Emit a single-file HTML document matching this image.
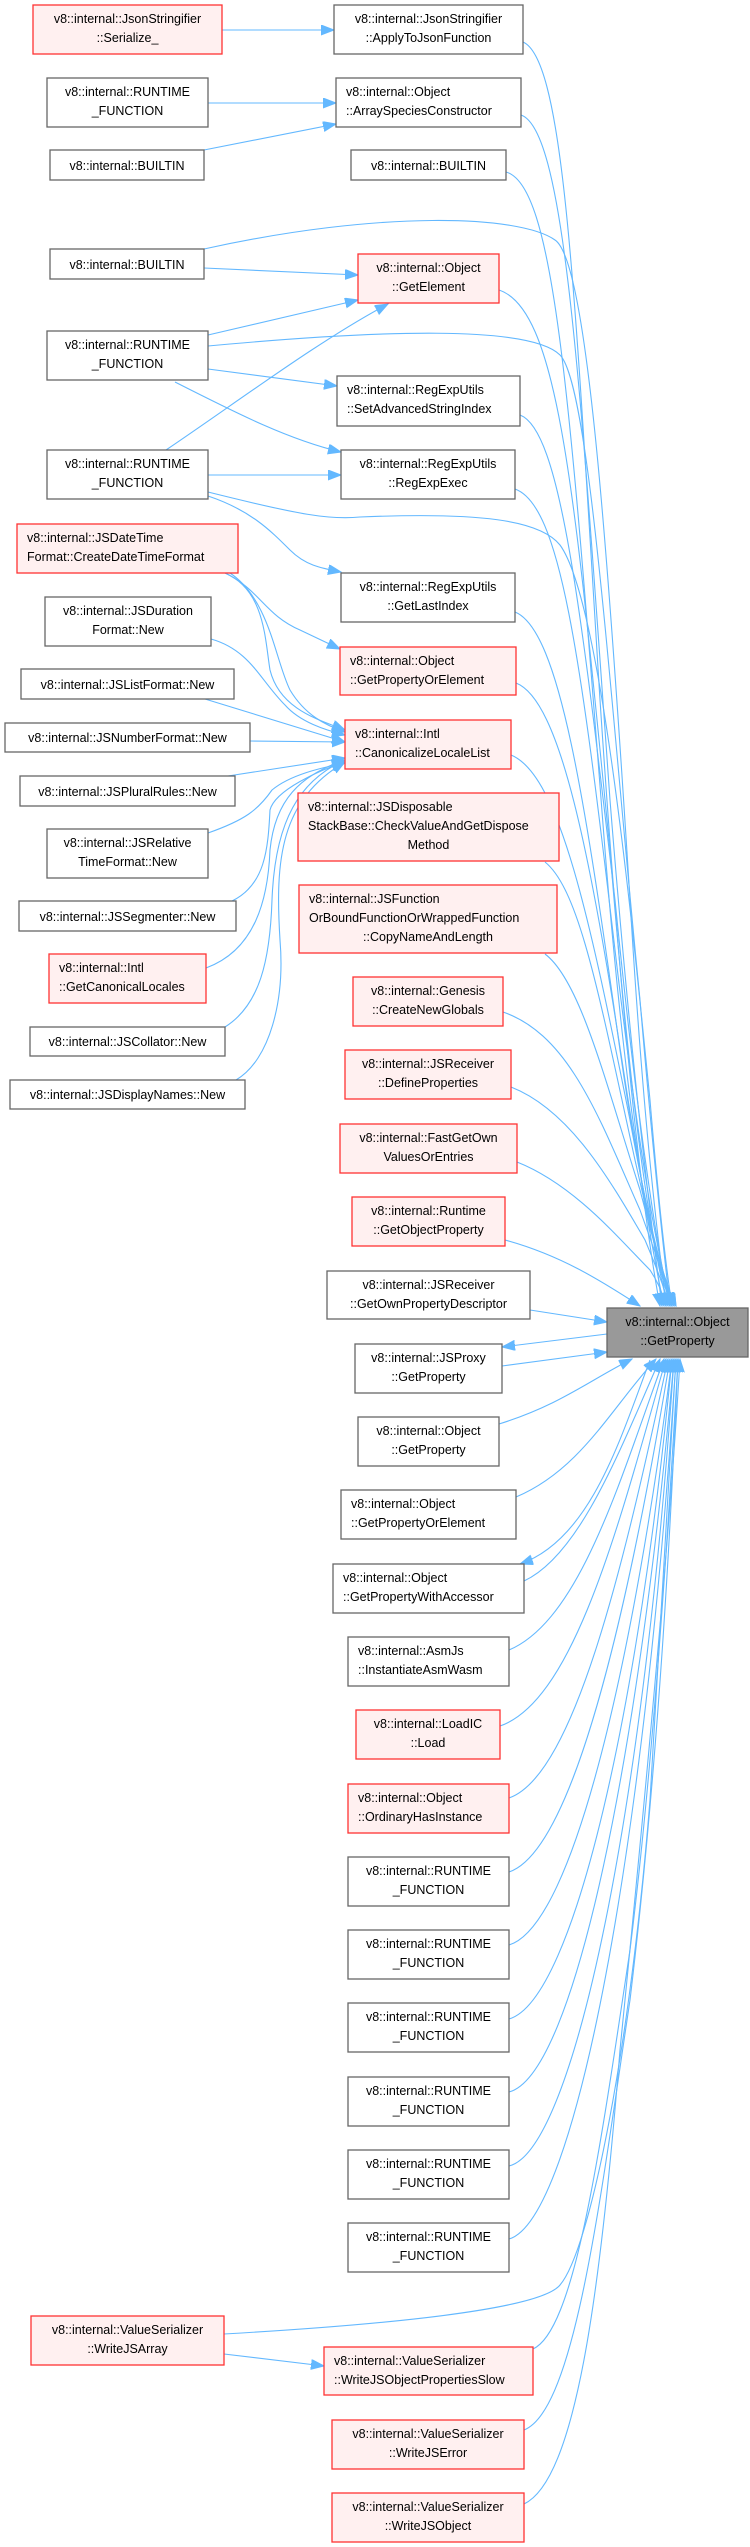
<!DOCTYPE html>
<html><head><meta charset="utf-8"><style>
html,body{margin:0;padding:0;background:#fff;}
svg{display:block;}
text{font-family:"Liberation Sans",sans-serif;font-size:12.5px;fill:#000;}
.w{fill:#fff;stroke:#666;stroke-width:1.3;}
.r{fill:#fff0f0;stroke:#f33;stroke-width:1.3;}
.g{fill:#999;stroke:#666;stroke-width:1.3;}
.e{fill:none;stroke:#63b8ff;stroke-width:1.1;}
.a{fill:none;stroke:#63b8ff;stroke-width:1.1;marker-end:url(#ah);}
</style></head><body>
<svg width="750" height="2547" viewBox="0 0 750 2547" xmlns="http://www.w3.org/2000/svg">
<defs><marker id="ah" markerUnits="userSpaceOnUse" markerWidth="14" markerHeight="12" refX="13" refY="5" orient="auto"><path d="M0,0 L13,5 L0,10 z" fill="#63b8ff" stroke="#63b8ff"/></marker></defs>

<!-- left-side edges -->
<path class="a" d="M222,30 L334,30"/>
<path class="a" d="M208,103 L336,103"/>
<path class="a" d="M204,150 L336,124"/>
<path class="a" d="M204,268 L358,275"/>
<path class="a" d="M208,335 L358,300"/>
<path class="a" d="M166,450 C240,400 320,340 388,304"/>
<path class="a" d="M208,369 L337,386"/>
<path class="a" d="M175,382 C240,415 290,440 341,452"/>
<path class="a" d="M208,475 L341,475"/>
<path class="a" d="M208,496 C250,510 270,530 290,550 C305,565 320,568 341,572"/>
<path class="a" d="M225,573 C260,590 265,615 300,630 C315,637 325,642 340,649"/>
<path class="a" d="M225,573 C265,590 265,640 270,670 C280,710 320,720 345,730"/>
<path class="a" d="M230,573 C270,600 275,660 290,690 C305,715 325,725 345,732"/>
<path class="a" d="M211,639 C250,650 260,680 285,705 C300,722 325,730 345,735"/>
<path class="a" d="M205,699 L345,742"/>
<path class="a" d="M250,741 L345,742"/>
<path class="a" d="M228,776 L345,758"/>
<path class="a" d="M208,833 C245,820 258,810 272,790 C290,775 320,768 345,763"/>
<path class="a" d="M232,901 C265,885 268,850 270,810 C275,790 320,770 345,762"/>
<path class="a" d="M206,968 C255,950 268,900 270,850 C275,800 300,775 345,760"/>
<path class="a" d="M225,1027 C260,1005 270,960 272,900 C275,820 300,780 345,760"/>
<path class="a" d="M236,1080 C270,1060 285,1000 280,940 C275,860 280,800 345,762"/>
<path class="a" d="M224,2354 L324,2366"/>

<!-- edges to target from above -->
<g class="a">
<path d="M523,42 C565,60 575,300 600,700 C620,1000 640,1200 660,1306"/>
<path d="M521,115 C565,130 580,380 610,800 C630,1050 648,1200 662,1306"/>
<path d="M506,172 C555,185 570,400 605,850 C625,1100 648,1230 664,1306"/>
<path d="M204,249 C380,210 520,215 555,240 C585,260 605,500 630,900 C645,1150 660,1250 666,1306"/>
<path d="M499,290 C560,310 575,500 610,850 C630,1100 650,1240 668,1306"/>
<path d="M208,346 C380,330 530,325 560,355 C590,385 610,700 640,1000 C655,1180 665,1260 670,1306"/>
<path d="M520,415 C560,430 580,600 615,900 C635,1100 655,1240 670,1306"/>
<path d="M515,489 C560,505 580,650 615,950 C635,1120 655,1250 672,1306"/>
<path d="M208,492 C300,515 330,520 360,517 C480,512 540,520 560,545 C600,600 630,900 650,1100 C660,1220 668,1280 672,1306"/>
<path d="M515,612 C560,630 585,800 620,1050 C640,1190 660,1270 672,1306"/>
<path d="M516,683 C560,700 590,850 625,1080 C645,1210 660,1280 672,1306"/>
<path d="M511,755 C560,775 590,920 630,1120 C650,1230 665,1285 674,1306"/>
<path d="M545,862 C580,890 600,1000 635,1160 C655,1250 668,1290 676,1306"/>
<path d="M545,954 C580,980 605,1080 640,1190 C658,1260 668,1290 676,1306"/>
<path d="M503,1012 C570,1035 600,1120 640,1210 C658,1260 668,1290 674,1306"/>
<path d="M511,1087 C570,1110 610,1180 645,1240 C660,1275 666,1295 670,1306"/>
<path d="M517,1162 C575,1185 620,1240 650,1270 C660,1285 664,1298 666,1306"/>
<path d="M505,1240 C560,1255 600,1280 640,1306"/>
<path d="M530,1310 L607,1322"/>
<path d="M607,1334 L502,1347"/>
<path d="M502,1366 L607,1352"/>
</g>

<!-- edges to target from below -->
<g class="a">
<path d="M499,1424 C560,1405 590,1380 632,1359"/>
<path d="M516,1497 C580,1470 610,1410 656,1359"/>
<path d="M650,1360 C620,1440 590,1540 520,1564"/>
<path d="M524,1581 C580,1555 620,1450 660,1359"/>
<path d="M509,1650 C580,1620 620,1480 664,1359"/>
<path d="M500,1726 C575,1700 620,1520 666,1359"/>
<path d="M509,1798 C575,1775 625,1560 668,1359"/>
<path d="M509,1872 C575,1850 630,1600 670,1359"/>
<path d="M509,1945 C575,1925 635,1650 672,1359"/>
<path d="M509,2019 C575,2000 640,1700 672,1359"/>
<path d="M509,2092 C575,2075 640,1750 674,1359"/>
<path d="M509,2166 C575,2150 645,1800 674,1359"/>
<path d="M509,2239 C575,2220 645,1850 676,1359"/>
<path d="M224,2334 C380,2325 540,2310 560,2285 C590,2250 630,2050 650,1800 C662,1600 672,1420 676,1359"/>
<path d="M533,2349 C575,2330 600,2150 630,1950 C655,1750 670,1500 678,1359"/>
<path d="M524,2430 C575,2410 600,2200 630,2000 C660,1750 672,1500 678,1359"/>
<path d="M524,2504 C575,2480 600,2300 620,2050 C650,1750 672,1500 680,1359"/>
</g>

<!-- nodes -->
<rect class="r" x="33" y="5" width="189" height="49"/><text x="127.5" y="23" text-anchor="middle">v8::internal::JsonStringifier</text><text x="127.5" y="42" text-anchor="middle">::Serialize_</text>
<rect class="w" x="334" y="5" width="189" height="49"/><text x="428.5" y="23" text-anchor="middle">v8::internal::JsonStringifier</text><text x="428.5" y="42" text-anchor="middle">::ApplyToJsonFunction</text>
<rect class="w" x="47" y="78" width="161" height="49"/><text x="127.5" y="96" text-anchor="middle">v8::internal::RUNTIME</text><text x="127.5" y="115" text-anchor="middle">_FUNCTION</text>
<rect class="w" x="336" y="78" width="185" height="49"/><text x="346" y="96">v8::internal::Object</text><text x="346" y="115">::ArraySpeciesConstructor</text>
<rect class="w" x="50" y="150" width="154" height="30"/><text x="127" y="170" text-anchor="middle">v8::internal::BUILTIN</text>
<rect class="w" x="351" y="150" width="155" height="30"/><text x="428.5" y="170" text-anchor="middle">v8::internal::BUILTIN</text>
<rect class="w" x="50" y="249" width="154" height="30"/><text x="127" y="269" text-anchor="middle">v8::internal::BUILTIN</text>
<rect class="r" x="358" y="254" width="141" height="49"/><text x="428.5" y="272" text-anchor="middle">v8::internal::Object</text><text x="428.5" y="291" text-anchor="middle">::GetElement</text>
<rect class="w" x="47" y="331" width="161" height="49"/><text x="127.5" y="349" text-anchor="middle">v8::internal::RUNTIME</text><text x="127.5" y="368" text-anchor="middle">_FUNCTION</text>
<rect class="w" x="337" y="376" width="183" height="50"/><text x="347" y="394">v8::internal::RegExpUtils</text><text x="347" y="413">::SetAdvancedStringIndex</text>
<rect class="w" x="47" y="450" width="161" height="49"/><text x="127.5" y="468" text-anchor="middle">v8::internal::RUNTIME</text><text x="127.5" y="487" text-anchor="middle">_FUNCTION</text>
<rect class="w" x="341" y="450" width="174" height="49"/><text x="428" y="468" text-anchor="middle">v8::internal::RegExpUtils</text><text x="428" y="487" text-anchor="middle">::RegExpExec</text>
<rect class="r" x="17" y="524" width="221" height="49"/><text x="27" y="542">v8::internal::JSDateTime</text><text x="27" y="561">Format::CreateDateTimeFormat</text>
<rect class="w" x="341" y="573" width="174" height="49"/><text x="428" y="591" text-anchor="middle">v8::internal::RegExpUtils</text><text x="428" y="610" text-anchor="middle">::GetLastIndex</text>
<rect class="w" x="45" y="597" width="166" height="49"/><text x="128" y="615" text-anchor="middle">v8::internal::JSDuration</text><text x="128" y="634" text-anchor="middle">Format::New</text>
<rect class="r" x="340" y="647" width="176" height="48"/><text x="350" y="665">v8::internal::Object</text><text x="350" y="684">::GetPropertyOrElement</text>
<rect class="w" x="21" y="669" width="213" height="30"/><text x="127.5" y="689" text-anchor="middle">v8::internal::JSListFormat::New</text>
<rect class="r" x="345" y="720" width="166" height="49"/><text x="355" y="738">v8::internal::Intl</text><text x="355" y="757">::CanonicalizeLocaleList</text>
<rect class="w" x="5" y="723" width="245" height="29"/><text x="127.5" y="742" text-anchor="middle">v8::internal::JSNumberFormat::New</text>
<rect class="w" x="20" y="776" width="215" height="30"/><text x="127.5" y="796" text-anchor="middle">v8::internal::JSPluralRules::New</text>
<rect class="r" x="298" y="793" width="261" height="68"/><text x="308" y="811">v8::internal::JSDisposable</text><text x="308" y="830">StackBase::CheckValueAndGetDispose</text><text x="428.5" y="849" text-anchor="middle">Method</text>
<rect class="w" x="47" y="829" width="161" height="49"/><text x="127.5" y="847" text-anchor="middle">v8::internal::JSRelative</text><text x="127.5" y="866" text-anchor="middle">TimeFormat::New</text>
<rect class="w" x="19" y="901" width="217" height="30"/><text x="127.5" y="921" text-anchor="middle">v8::internal::JSSegmenter::New</text>
<rect class="r" x="299" y="885" width="258" height="68"/><text x="309" y="903">v8::internal::JSFunction</text><text x="309" y="922">OrBoundFunctionOrWrappedFunction</text><text x="428" y="941" text-anchor="middle">::CopyNameAndLength</text>
<rect class="r" x="49" y="954" width="157" height="49"/><text x="59" y="972">v8::internal::Intl</text><text x="59" y="991">::GetCanonicalLocales</text>
<rect class="r" x="353" y="977" width="150" height="49"/><text x="428" y="995" text-anchor="middle">v8::internal::Genesis</text><text x="428" y="1014" text-anchor="middle">::CreateNewGlobals</text>
<rect class="w" x="30" y="1027" width="195" height="29"/><text x="127.5" y="1046" text-anchor="middle">v8::internal::JSCollator::New</text>
<rect class="r" x="345" y="1050" width="166" height="49"/><text x="428" y="1068" text-anchor="middle">v8::internal::JSReceiver</text><text x="428" y="1087" text-anchor="middle">::DefineProperties</text>
<rect class="w" x="10" y="1080" width="235" height="29"/><text x="127.5" y="1099" text-anchor="middle">v8::internal::JSDisplayNames::New</text>
<rect class="r" x="340" y="1124" width="177" height="49"/><text x="428.5" y="1142" text-anchor="middle">v8::internal::FastGetOwn</text><text x="428.5" y="1161" text-anchor="middle">ValuesOrEntries</text>
<rect class="r" x="352" y="1197" width="153" height="49"/><text x="428.5" y="1215" text-anchor="middle">v8::internal::Runtime</text><text x="428.5" y="1234" text-anchor="middle">::GetObjectProperty</text>
<rect class="w" x="327" y="1271" width="203" height="48"/><text x="428.5" y="1289" text-anchor="middle">v8::internal::JSReceiver</text><text x="428.5" y="1308" text-anchor="middle">::GetOwnPropertyDescriptor</text>
<rect class="g" x="607" y="1308" width="141" height="49"/><text x="677.5" y="1326" text-anchor="middle">v8::internal::Object</text><text x="677.5" y="1345" text-anchor="middle">::GetProperty</text>
<rect class="w" x="355" y="1344" width="147" height="49"/><text x="428.5" y="1362" text-anchor="middle">v8::internal::JSProxy</text><text x="428.5" y="1381" text-anchor="middle">::GetProperty</text>
<rect class="w" x="358" y="1417" width="141" height="49"/><text x="428.5" y="1435" text-anchor="middle">v8::internal::Object</text><text x="428.5" y="1454" text-anchor="middle">::GetProperty</text>
<rect class="w" x="341" y="1490" width="175" height="49"/><text x="351" y="1508">v8::internal::Object</text><text x="351" y="1527">::GetPropertyOrElement</text>
<rect class="w" x="333" y="1564" width="191" height="49"/><text x="343" y="1582">v8::internal::Object</text><text x="343" y="1601">::GetPropertyWithAccessor</text>
<rect class="w" x="348" y="1637" width="161" height="49"/><text x="358" y="1655">v8::internal::AsmJs</text><text x="358" y="1674">::InstantiateAsmWasm</text>
<rect class="r" x="356" y="1710" width="144" height="49"/><text x="428" y="1728" text-anchor="middle">v8::internal::LoadIC</text><text x="428" y="1747" text-anchor="middle">::Load</text>
<rect class="r" x="348" y="1784" width="161" height="49"/><text x="358" y="1802">v8::internal::Object</text><text x="358" y="1821">::OrdinaryHasInstance</text>
<rect class="w" x="348" y="1857" width="161" height="49"/><text x="428.5" y="1875" text-anchor="middle">v8::internal::RUNTIME</text><text x="428.5" y="1894" text-anchor="middle">_FUNCTION</text>
<rect class="w" x="348" y="1930" width="161" height="49"/><text x="428.5" y="1948" text-anchor="middle">v8::internal::RUNTIME</text><text x="428.5" y="1967" text-anchor="middle">_FUNCTION</text>
<rect class="w" x="348" y="2003" width="161" height="49"/><text x="428.5" y="2021" text-anchor="middle">v8::internal::RUNTIME</text><text x="428.5" y="2040" text-anchor="middle">_FUNCTION</text>
<rect class="w" x="348" y="2077" width="161" height="49"/><text x="428.5" y="2095" text-anchor="middle">v8::internal::RUNTIME</text><text x="428.5" y="2114" text-anchor="middle">_FUNCTION</text>
<rect class="w" x="348" y="2150" width="161" height="49"/><text x="428.5" y="2168" text-anchor="middle">v8::internal::RUNTIME</text><text x="428.5" y="2187" text-anchor="middle">_FUNCTION</text>
<rect class="w" x="348" y="2223" width="161" height="49"/><text x="428.5" y="2241" text-anchor="middle">v8::internal::RUNTIME</text><text x="428.5" y="2260" text-anchor="middle">_FUNCTION</text>
<rect class="r" x="31" y="2316" width="193" height="49"/><text x="127.5" y="2334" text-anchor="middle">v8::internal::ValueSerializer</text><text x="127.5" y="2353" text-anchor="middle">::WriteJSArray</text>
<rect class="r" x="324" y="2347" width="209" height="48"/><text x="334" y="2365">v8::internal::ValueSerializer</text><text x="334" y="2384">::WriteJSObjectPropertiesSlow</text>
<rect class="r" x="332" y="2420" width="192" height="49"/><text x="428" y="2438" text-anchor="middle">v8::internal::ValueSerializer</text><text x="428" y="2457" text-anchor="middle">::WriteJSError</text>
<rect class="r" x="332" y="2493" width="192" height="49"/><text x="428" y="2511" text-anchor="middle">v8::internal::ValueSerializer</text><text x="428" y="2530" text-anchor="middle">::WriteJSObject</text>
</svg>
</body></html>
